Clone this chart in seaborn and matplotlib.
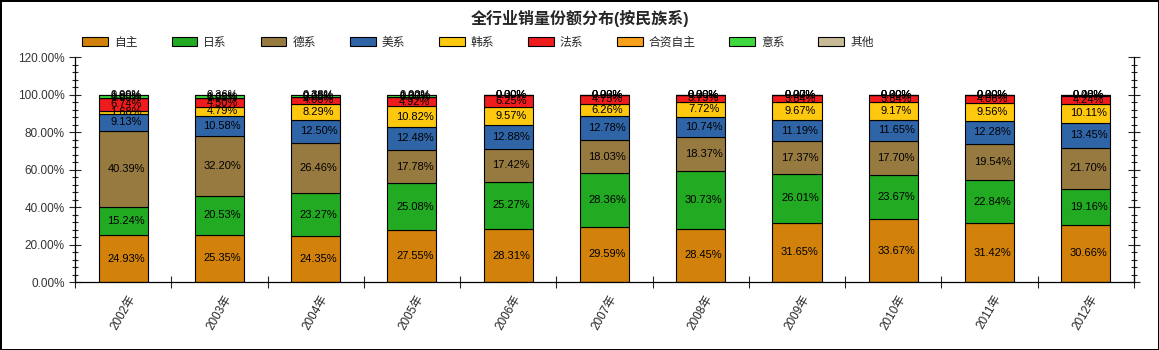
import numpy as np
import matplotlib
matplotlib.use("Agg")
import matplotlib.pyplot as plt
import seaborn as sns
from matplotlib.patches import Patch
from matplotlib.ticker import MultipleLocator, FuncFormatter, FixedLocator

sns.set_style("white")
plt.rcParams['font.family'] = ['Liberation Sans', 'Noto Sans CJK SC', 'DejaVu Sans']

years = ['2002年', '2003年', '2004年', '2005年', '2006年', '2007年',
         '2008年', '2009年', '2010年', '2011年', '2012年']
zizhu = [24.93, 25.35, 24.35, 27.55, 28.31, 29.59, 28.45, 31.65, 33.67, 31.42, 30.66]
rixi = [15.24, 20.53, 23.27, 25.08, 25.27, 28.36, 30.73, 26.01, 23.67, 22.84, 19.16]
dexi = [40.39, 32.20, 26.46, 17.78, 17.42, 18.03, 18.37, 17.37, 17.70, 19.54, 21.70]
meixi = [9.13, 10.58, 12.50, 12.48, 12.88, 12.78, 10.74, 11.19, 11.65, 12.28, 13.45]
hanxi = [1.68, 4.79, 8.29, 10.82, 9.57, 6.26, 7.72, 9.67, 9.17, 9.56, 10.11]
faxi = [6.74, 4.50, 4.00, 4.92, 6.25, 4.75, 3.79, 3.84, 3.84, 4.06, 4.24]
hezi = [0.00, 0.00, 0.00, 0.00, 0.00, 0.00, 0.00, 0.00, 0.00, 0.00, 0.40]
yixi = [1.89, 1.69, 0.75, 1.37, 0.30, 0.23, 0.20, 0.27, 0.30, 0.30, 0.28]
qita = [0.00, 0.36, 0.38, 0.00, 0.00, 0.00, 0.00, 0.00, 0.00, 0.00, 0.00]

series_names = ['自主', '日系', '德系', '美系', '韩系', '法系', '合资自主', '意系', '其他']
series_vals = [zizhu, rixi, dexi, meixi, hanxi, faxi, hezi, yixi, qita]
colors = ['#D2820A', '#22AA22', '#977A40', '#2F65A7', '#FDC80E', '#EE1C1C',
          '#F7A11A', '#3FD83F', '#C8BB96']

fig = plt.figure(figsize=(11.59, 3.5), dpi=100, edgecolor='black', linewidth=2)
ax = fig.add_axes([0.0647, 0.194, 0.9137, 0.643])

bottom = np.zeros(len(years))
for name, vals, c in zip(series_names, series_vals, colors):
    v = np.array(vals, dtype=float)
    sns.barplot(x=years, y=v, bottom=bottom, color=c, width=0.51,
                edgecolor='black', linewidth=0.8, ax=ax, order=years,
                saturation=1)
    for i, (b, h) in enumerate(zip(bottom, v)):
        ax.text(i + 0.03, b + h / 2, f'{h:.2f}%', ha='center', va='center',
                fontsize=8, color='black', zorder=5)
    bottom = bottom + v

ax.set_xlim(-0.5, len(years) - 0.5)
ax.set_ylim(0, 120)
ax.yaxis.set_major_locator(MultipleLocator(20))
ax.yaxis.set_minor_locator(MultipleLocator(4))
ax.yaxis.set_major_formatter(FuncFormatter(lambda y, p: f'{y:.2f}%'))
ax.tick_params(axis='y', which='major', direction='inout', length=8, width=0.8,
               labelsize=8.5, labelcolor='#333333', right=True, left=True)
ax.tick_params(axis='y', which='minor', direction='inout', length=5, width=0.8,
               right=True, left=True)

ax.set_xticks(np.arange(len(years)))
ax.set_xticklabels(years, rotation=60, fontsize=8.5)
ax.xaxis.set_minor_locator(FixedLocator(np.arange(-0.5, len(years), 1.0)))
ax.tick_params(axis='x', which='major', length=0, pad=8)
ax.tick_params(axis='x', which='minor', direction='inout', length=8, width=0.8,
               bottom=True)
ax.set_xlabel('')
ax.set_ylabel('')

for s in ['left', 'bottom', 'right']:
    ax.spines[s].set_visible(True)
    ax.spines[s].set_color('black')
    ax.spines[s].set_linewidth(0.9)
ax.spines['top'].set_visible(False)

fig.text(0.5, 0.948, '全行业销量份额分布(按民族系)', ha='center', va='center',
         fontsize=11.5, fontweight='bold')

handles = [Patch(facecolor=c, edgecolor='black', linewidth=0.8) for c in colors]
fig.legend(handles, series_names, loc='center left', bbox_to_anchor=(0.062, 0.878),
           ncol=9, frameon=False, fontsize=8.5, handlelength=2.2,
           handleheight=0.75, handletextpad=0.5, columnspacing=2.85)

fig.savefig('out.png', dpi=100, edgecolor=fig.get_edgecolor())
